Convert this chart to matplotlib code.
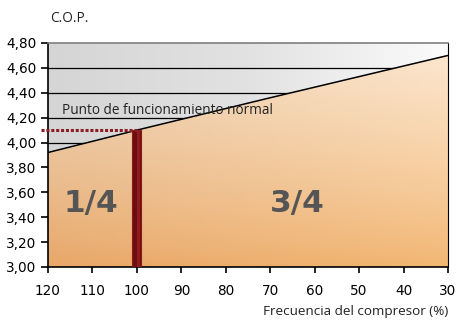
import numpy as np
import matplotlib
matplotlib.use('Agg')
import matplotlib.pyplot as plt
from matplotlib.colors import LinearSegmentedColormap

# Performance curve: compressor frequency (%) vs C.O.P.
freq = [120, 100, 70, 50, 30]
cop = [3.92, 4.10, 4.36, 4.53, 4.70]

# Normal operating point
nominal_freq = 100
nominal_cop = 4.10

yticks = [3.00, 3.20, 3.40, 3.60, 3.80, 4.00, 4.20, 4.40, 4.60, 4.80]
xticks = [120, 110, 100, 90, 80, 70, 60, 50, 40, 30]

fig = plt.figure(figsize=(4.58, 3.2), dpi=100)
ax = fig.add_axes([48 / 458, 1 - 267 / 320, 400 / 458, 224 / 320])
ax.set_xlim(120, 30)
ax.set_ylim(3.0, 4.8)

extent = [120, 30, 3.0, 4.8]

# Grey background above the curve, light towards the right
grey = LinearSegmentedColormap.from_list('grey', ['#d5d5d5', '#e2e2e2', '#fbfbfb'])
gx = np.linspace(0, 1, 256)[None, :]
ax.imshow(grey(np.repeat(gx, 2, axis=0)), extent=extent, aspect='auto',
          origin='lower', zorder=0, interpolation='bilinear')

# Grid lines only show in the grey part
for y in yticks[1:-1]:
    ax.axhline(y, color='black', lw=0.9, zorder=1)

# Orange gradient below the curve
ny, nx = 200, 200
vy = np.linspace(0, 1, ny)[:, None]
vx = np.linspace(0, 1, nx)[None, :]
bottom = np.array([0.91, 0.65, 0.40])
top = np.array([0.93, 0.84, 0.74])
top_r = np.array([0.99, 0.91, 0.82])
bottom_r = np.array([0.95, 0.71, 0.44])
top_mix = top[None, None, :] * (1 - vx[..., None]) + top_r[None, None, :] * vx[..., None]
bot_mix = bottom[None, None, :] * (1 - vx[..., None]) + bottom_r[None, None, :] * vx[..., None]
t = vy[..., None] ** 0.8
rgb = bot_mix * (1 - t) + top_mix * t
im = ax.imshow(rgb, extent=extent, aspect='auto', origin='lower', zorder=2,
               interpolation='bilinear')
poly = ax.fill_between(freq, cop, 3.0, color='none', lw=0)
im.set_clip_path(poly.get_paths()[0], transform=ax.transData)

ax.plot(freq, cop, color='black', lw=1.1, zorder=3)

# Normal operating point marker
ax.bar(nominal_freq, nominal_cop - 3.0, bottom=3.0, width=2.0,
       color='#6e0d0f', edgecolor='#8a1a1c', lw=0.8, zorder=4)
ax.bar(nominal_freq - 0.4, nominal_cop - 3.0, bottom=3.0, width=0.6,
       color='#8c1c1f', lw=0, zorder=4)
ax.plot([121.6, nominal_freq], [nominal_cop, nominal_cop], color='#8a1e22',
        lw=2.2, ls=(0, (1, 0.6)), clip_on=False, zorder=4)

ax.text(116.8, 4.255, 'Punto de funcionamiento normal', fontsize=9.8,
        family='Open Sans', color='#222222', va='center', ha='left', zorder=5)
ax.text(110.3, 3.51, '1/4', fontsize=22.5, fontweight='bold', color='#555555',
        ha='center', va='center', zorder=5)
ax.text(63.8, 3.51, '3/4', fontsize=22.5, fontweight='bold', color='#555555',
        ha='center', va='center', zorder=5)

ax.set_yticks(yticks)
ax.set_yticklabels(['{:.2f}'.format(v).replace('.', ',') for v in yticks])
ax.set_xticks(xticks)
ax.set_xticklabels([str(v) for v in xticks])
ax.tick_params(direction='out', length=5, width=1.2, labelsize=9.8, colors='black')
ax.tick_params(axis='x', pad=8, length=4)

for side in ['left', 'bottom', 'right']:
    ax.spines[side].set_color('black')
    ax.spines[side].set_linewidth(1.2)
ax.spines['top'].set_color('#7f7f7f')
ax.spines['top'].set_linewidth(1.2)
ax.spines['right'].set_linewidth(0.8)

fig.text(50 / 458, 1 - 18 / 320, 'C.O.P.', fontsize=9.8, family='Open Sans',
         color='#222222', va='center', ha='left')
fig.text(448 / 458, 1 - 312 / 320, 'Frecuencia del compresor (%)', fontsize=9.7,
         family='Open Sans', color='#222222', va='center', ha='right')

fig.savefig('out.png', dpi=100)
